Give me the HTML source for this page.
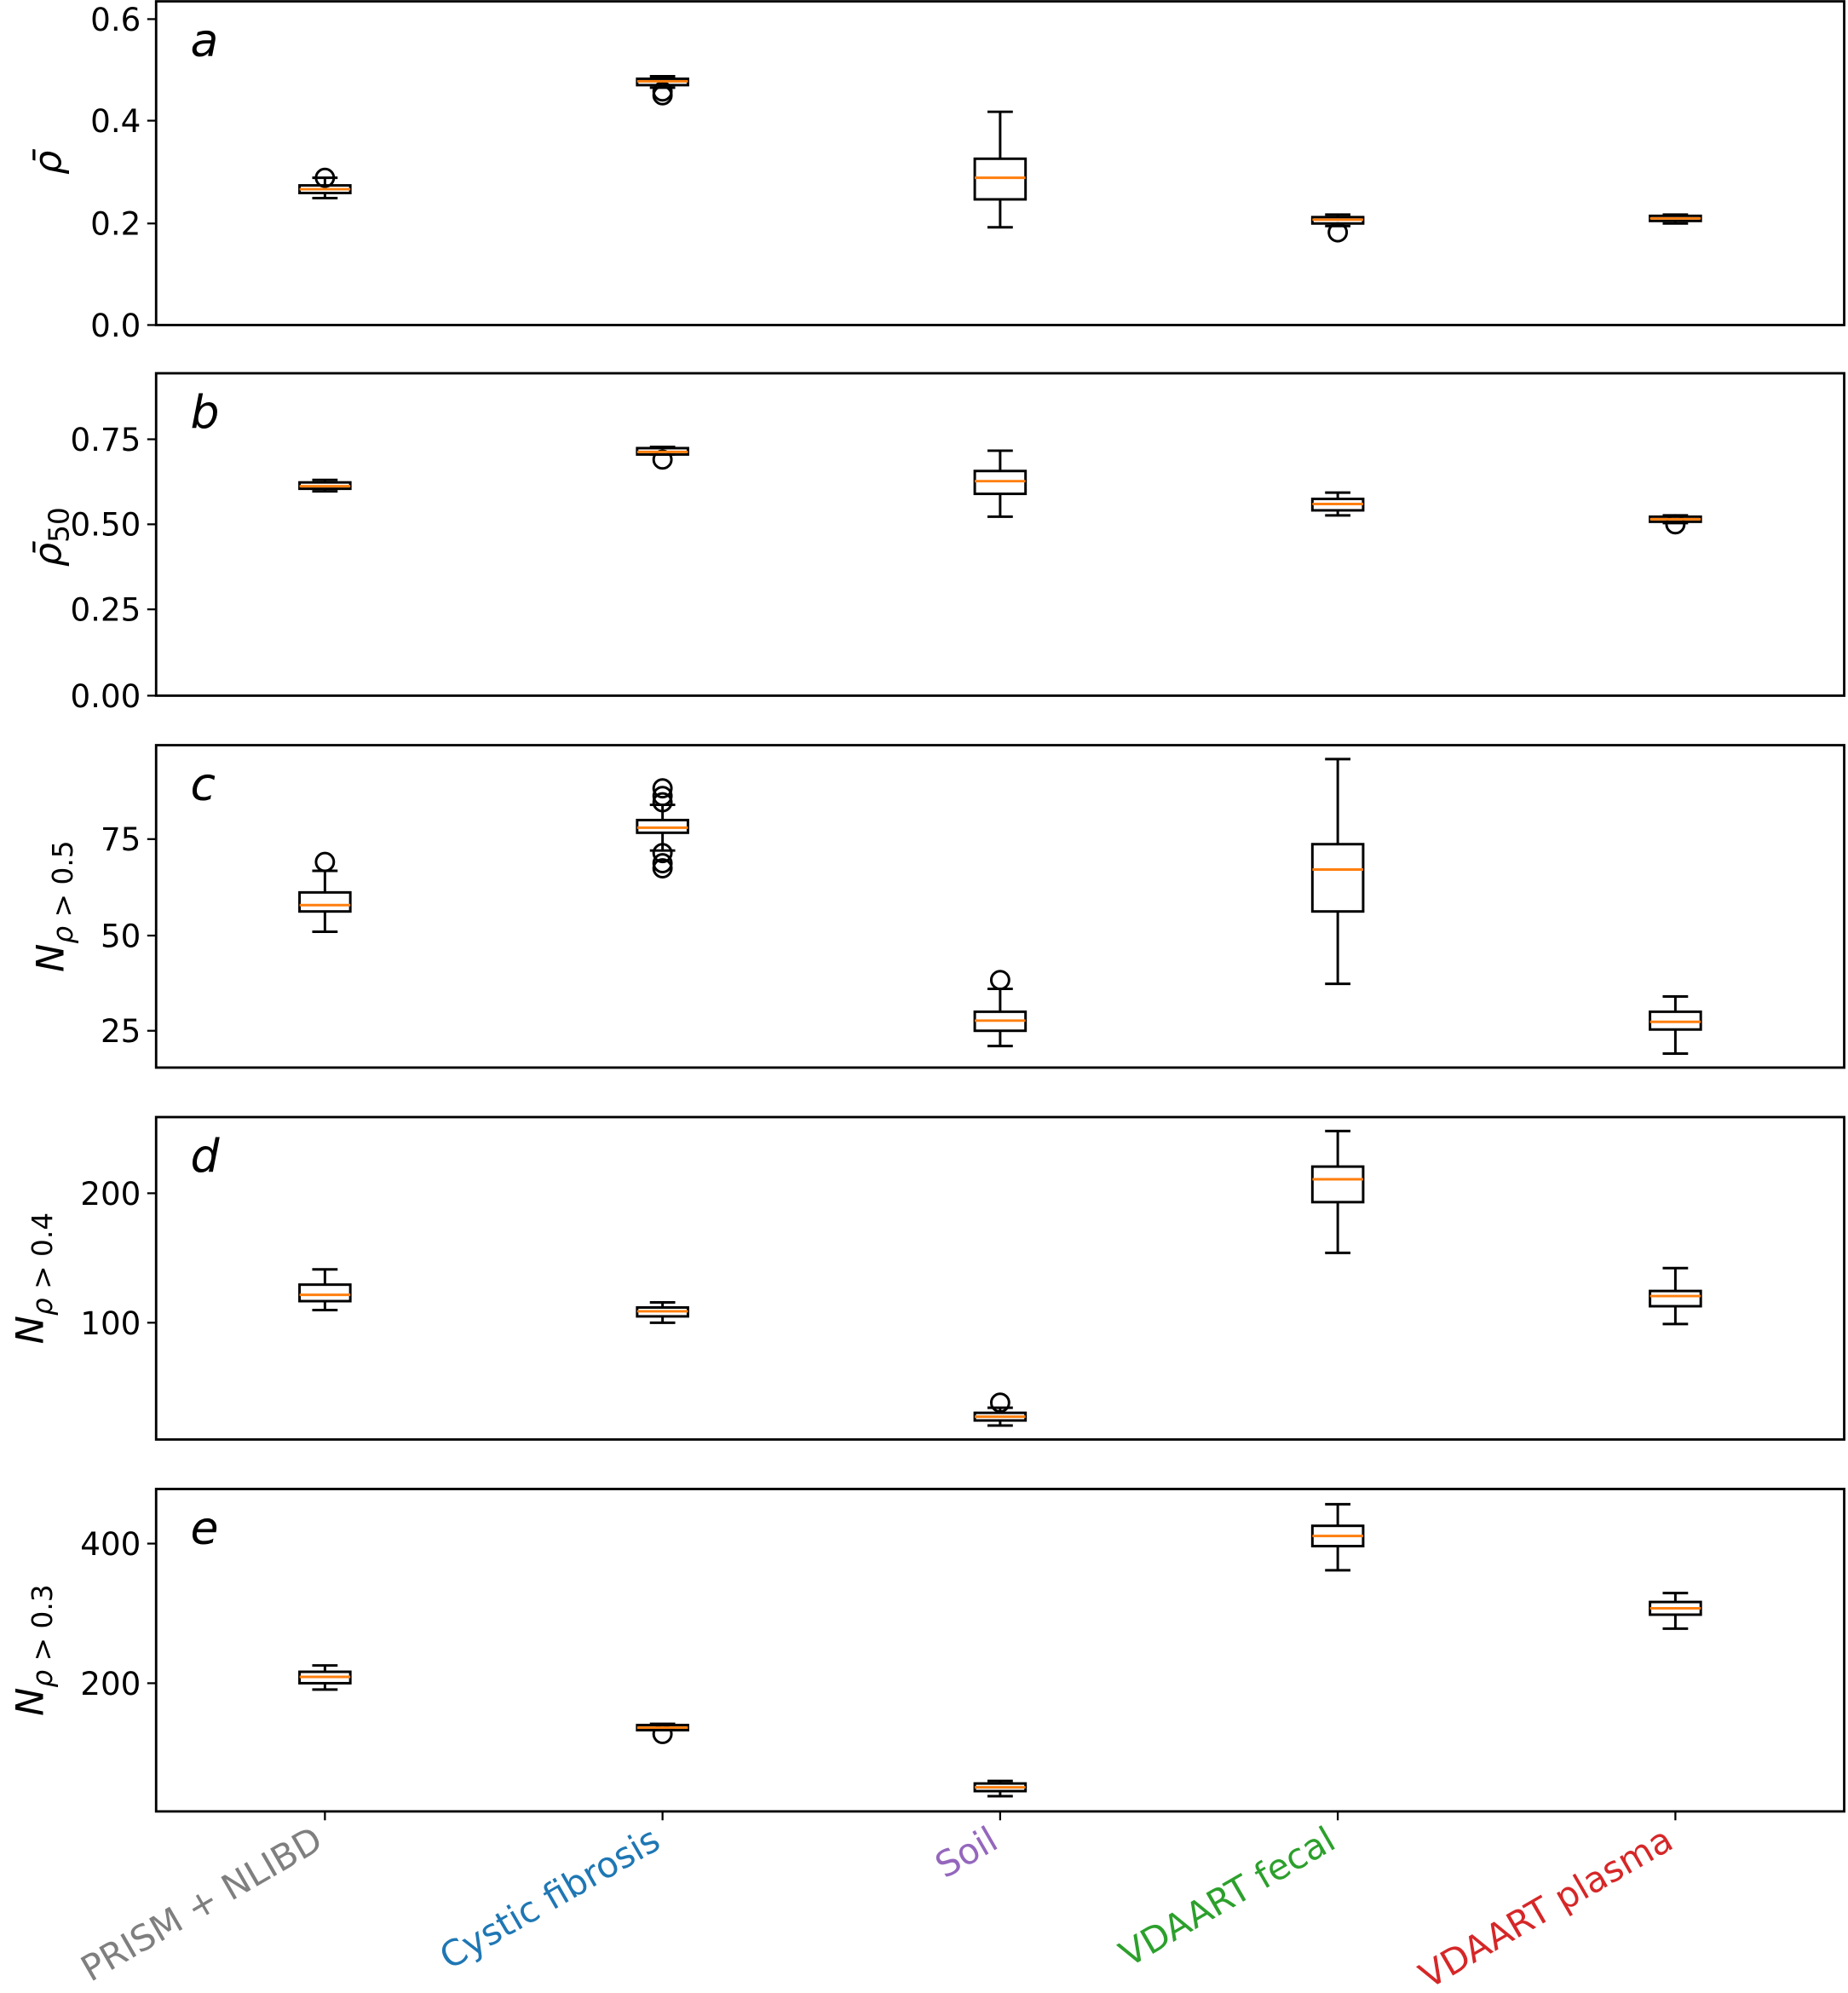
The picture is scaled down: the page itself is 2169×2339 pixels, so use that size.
<!DOCTYPE html>
<html><head><meta charset="utf-8"><style>html,body{margin:0;padding:0;background:#fff}svg{display:block}</style></head>
<body>
<svg id="s" xmlns="http://www.w3.org/2000/svg" width="2169" height="2339" viewBox="0 0 1456 1570" font-family="DejaVu Sans, Liberation Sans, sans-serif">
</svg>
<script>
const s=document.getElementById('s');let h='';
const L=123,R=1453;
const panels=[
 {t:1,b:256,letter:'a',ticks:[[15,'0.6'],[95,'0.4'],[176,'0.2'],[256,'0.0']],
  boxes:[[146,152,149,140,156,[140]],[62,67,64,60,69,[72,75]],[125,157,140,88,179,[]],[171,176,173,169,178,[183]],[170,174,172,169,176,[]]]},
 {t:294,b:548,letter:'b',ticks:[[346,'0.75'],[413,'0.50'],[480,'0.25'],[548,'0.00']],
  boxes:[[380,385,383,378,387,[]],[353,358,356,352,358,[362]],[371,389,379,355,407,[]],[393,402,397,388,406,[]],[407,411,409,406,412,[413]]]},
 {t:587,b:841,letter:'c',ticks:[[661,'75'],[737,'50'],[812,'25']],
  boxes:[[703,718,713,686,734,[679]],[646,656,652,634,670,[621,627,632,672,680,684]],[797,812,804,779,824,[772]],[665,718,685,598,775,[]],[797,811,805,785,830,[]]]},
 {t:880,b:1134,letter:'d',ticks:[[940,'200'],[1042,'100']],
  boxes:[[1012,1025,1020,1000,1032,[]],[1030,1037,1033,1026,1042,[]],[1113,1119,1116,1109,1123,[1105]],[919,947,929,891,987,[]],[1017,1029,1021,999,1043,[]]]},
 {t:1173,b:1427,letter:'e',ticks:[[1216,'400'],[1326,'200']],
  boxes:[[1317,1326,1321,1312,1331,[]],[1359,1363,1361,1358,1363,[1366]],[1405,1411,1408,1403,1415,[]],[1202,1218,1210,1185,1237,[]],[1262,1272,1267,1255,1283,[]]]}
];
const xs=[256,522,788,1054,1320];
panels.forEach((p,i)=>{
 h+=`<rect x="${L}" y="${p.t}" width="${R-L}" height="${p.b-p.t}" fill="none" stroke="#000" stroke-width="1.9"/>`;
 p.ticks.forEach(([y,l])=>{h+=`<line x1="${L-7}" y1="${y}" x2="${L}" y2="${y}" stroke="#000" stroke-width="1.5"/><text x="${L-12}" y="${y+9}" font-size="25" text-anchor="end">${l}</text>`;});
 h+=`<text x="150" y="${p.t+43}" font-size="36" font-style="italic">${p.letter}</text>`;
 p.boxes.forEach((b,j)=>{const x=xs[j];const [q1,q3,m,w1,w2,f]=b;
  h+=`<g stroke="#000" stroke-width="2" fill="none"><line x1="${x}" y1="${q1}" x2="${x}" y2="${w1}"/><line x1="${x}" y1="${q3}" x2="${x}" y2="${w2}"/><line x1="${x-10}" y1="${w1}" x2="${x+10}" y2="${w1}"/><line x1="${x-10}" y1="${w2}" x2="${x+10}" y2="${w2}"/>`;
  f.forEach(fy=>{h+=`<circle cx="${x}" cy="${fy}" r="7"/>`;});
  h+=`<rect x="${x-20}" y="${q1}" width="40" height="${q3-q1}"/></g><line x1="${x-20}" y1="${m}" x2="${x+20}" y2="${m}" stroke="#ff7f0e" stroke-width="2"/>`;
 });
});
h+=`<text transform="translate(48,128) rotate(-90)" font-size="30" font-style="italic" text-anchor="middle">ρ̄</text>`;
h+=`<text transform="translate(48,423) rotate(-90)" font-size="30" text-anchor="middle"><tspan font-style="italic">ρ̄</tspan><tspan font-size="22" dy="6">50</tspan></text>`;
[['0.5',714,50],['0.4',1007,34],['0.3',1300,34]].forEach(([v,y,x])=>{
 h+=`<text transform="translate(${x},${y}) rotate(-90)" font-size="30" text-anchor="middle"><tspan font-style="italic">N</tspan><tspan font-size="22" dy="7"><tspan font-style="italic">ρ</tspan> &gt; ${v}</tspan></text>`;});
const labs=[['PRISM + NLIBD','#7f7f7f'],['Cystic fibrosis','#1f77b4'],['Soil','#9467bd'],['VDAART fecal','#2ca02c'],['VDAART plasma','#d62728']];
xs.forEach((x,j)=>{h+=`<line x1="${x}" y1="1427" x2="${x}" y2="1434" stroke="#000" stroke-width="1.5"/><text transform="translate(${x},1455) rotate(-30)" font-size="28" text-anchor="end" fill="${labs[j][1]}">${labs[j][0]}</text>`;});
s.innerHTML=h;
</script>
</body></html>
